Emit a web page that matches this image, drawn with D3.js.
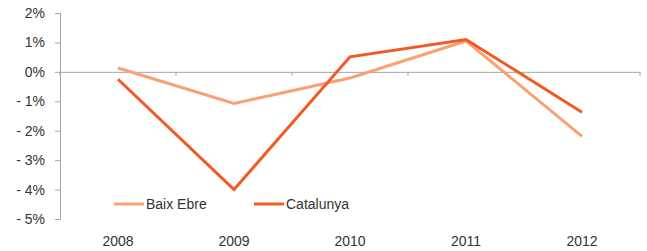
<!DOCTYPE html>
<html lang="en">
<head>
  <meta charset="UTF-8">
  <script src="https://d3js.org/d3.v7.min.js"></script>
  <style>
    body { margin: 0; background: #fff; font-family: "Liberation Sans", Arial, sans-serif; }
  </style>
</head>
<body>
<div id="chart"></div>
<script>
const years = ['2008', '2009', '2010', '2011', '2012'];
const baixEbre = [0.13, -1.07, -0.21, 1.05, -2.19];
const catalunya = [-0.25, -4.0, 0.51, 1.1, -1.37];
const yTicks = [2, 1, 0, -1, -2, -3, -4, -5];

const width = 647, height = 251;
const margin = { top: 13, right: 7, bottom: 32, left: 60 };

const svg = d3.select('#chart').append('svg')
  .attr('width', width)
  .attr('height', height);

const x = d3.scaleBand()
  .domain(years)
  .range([margin.left, width - margin.right]);

const y = d3.scaleLinear()
  .domain([-5, 2])
  .range([height - margin.bottom, margin.top]);

const axisColor = '#a6a6a6';
const textColor = '#333';

// y axis
const yAxis = svg.append('g')
  .attr('transform', `translate(${margin.left},0)`)
  .call(d3.axisLeft(y).tickValues(yTicks).tickSize(5).tickPadding(10)
    .tickFormat(d => (d < 0 ? '- ' + Math.abs(d) : d) + '%'));
yAxis.select('.domain').attr('stroke', axisColor);
yAxis.selectAll('line').attr('stroke', axisColor);
yAxis.selectAll('text').attr('fill', textColor).style('font-size', '14px')
  .style('font-family', '"Liberation Sans", Arial, sans-serif');

// x axis at zero
const xAxis = svg.append('g')
  .attr('transform', `translate(0,${y(0)})`)
  .call(d3.axisBottom(x).tickSize(0).tickFormat(''));
xAxis.select('.domain').attr('stroke', axisColor);
xAxis.selectAll('.tick').remove();

// tick marks at band boundaries
const bounds = years.map(d => x(d)).concat([x(years[years.length - 1]) + x.bandwidth()]);
svg.append('g').selectAll('line')
  .data(bounds)
  .enter().append('line')
  .attr('x1', d => d).attr('x2', d => d)
  .attr('y1', y(0)).attr('y2', y(0) + 4)
  .attr('stroke', axisColor);

// category labels at bottom
svg.append('g').selectAll('text')
  .data(years)
  .enter().append('text')
  .attr('x', d => x(d) + x.bandwidth() / 2)
  .attr('y', height - 5)
  .attr('text-anchor', 'middle')
  .attr('fill', textColor)
  .style('font-size', '14px')
  .text(d => d);

const line = d3.line()
  .x((d, i) => x(years[i]) + x.bandwidth() / 2)
  .y(d => y(d));

const series = [
  { name: 'Baix Ebre', values: baixEbre, color: '#f9a172' },
  { name: 'Catalunya', values: catalunya, color: '#f15a22' }
];

series.forEach(s => {
  svg.append('path')
    .datum(s.values)
    .attr('fill', 'none')
    .attr('stroke', s.color)
    .attr('stroke-width', 3)
    .attr('stroke-linejoin', 'miter')
    .attr('d', line);
});

// legend
const legendX = [114, 254];
const legend = svg.append('g').selectAll('g')
  .data(series)
  .enter().append('g')
  .attr('transform', (d, i) => `translate(${legendX[i]},${204})`);
legend.append('line')
  .attr('x1', 0).attr('x2', 30)
  .attr('stroke', d => d.color)
  .attr('stroke-width', 3);
legend.append('text')
  .attr('x', 32)
  .attr('y', 5)
  .attr('fill', textColor)
  .style('font-size', '14px')
  .text(d => d.name);
</script>
</body>
</html>
